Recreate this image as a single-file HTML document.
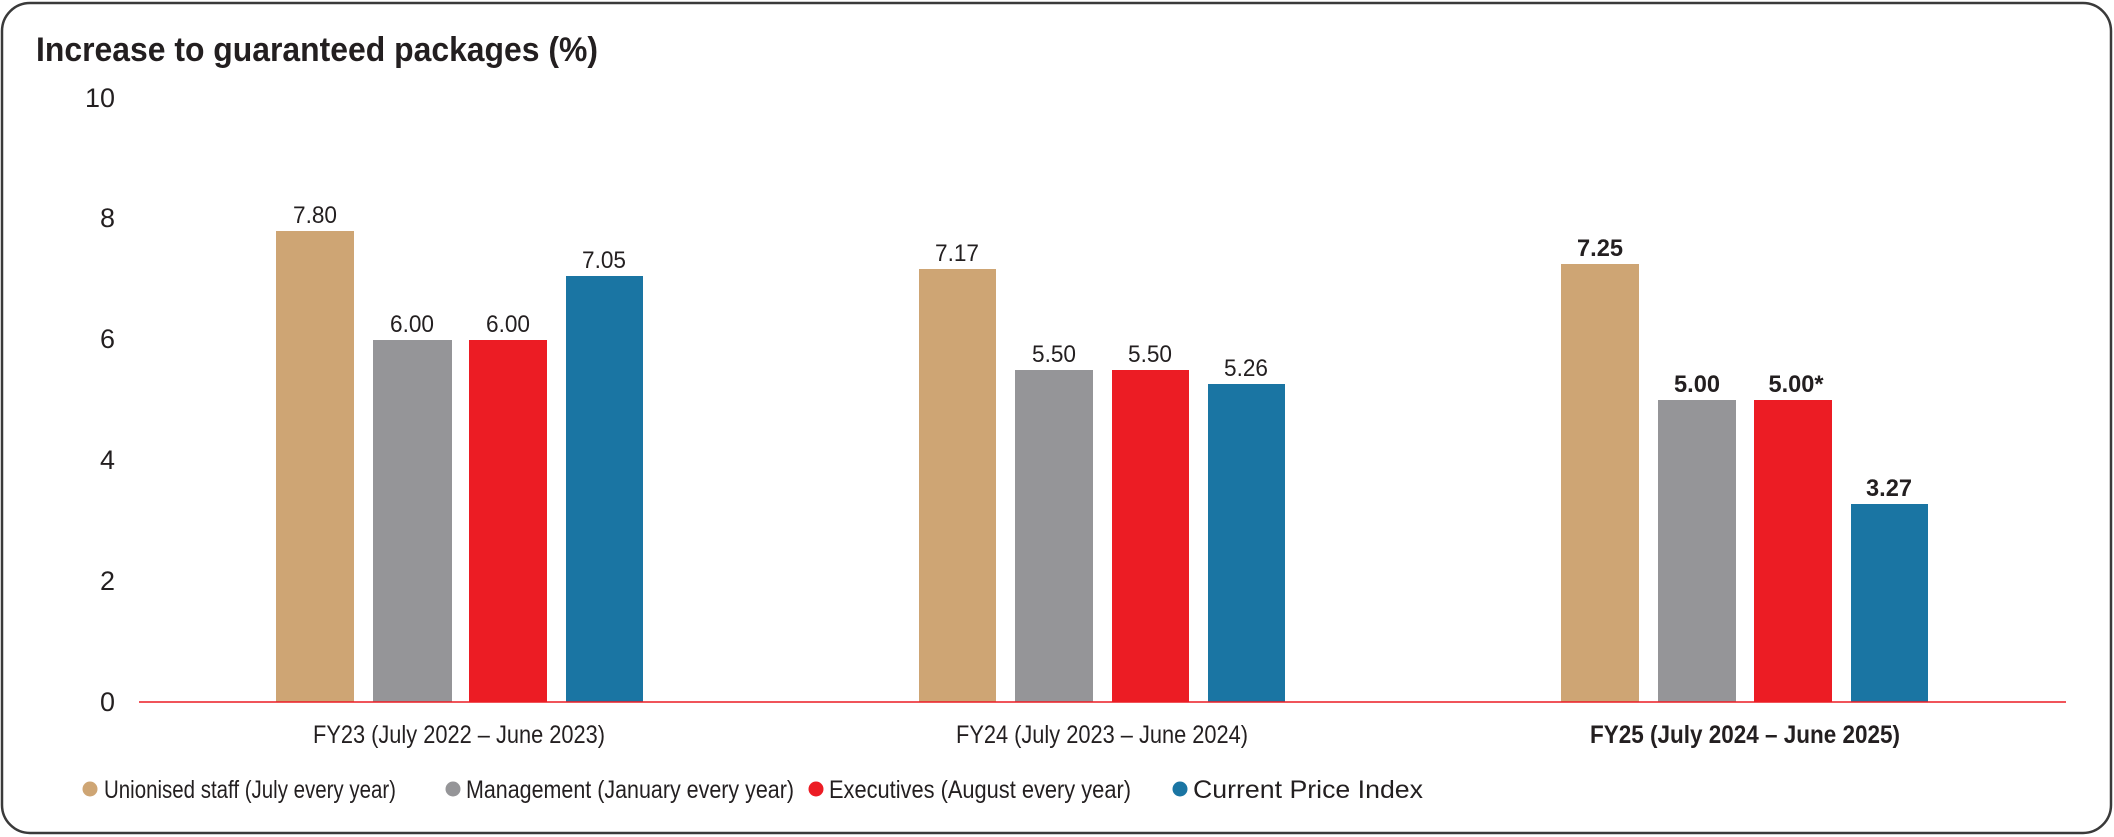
<!DOCTYPE html>
<html><head><meta charset="utf-8"><style>
html,body{margin:0;padding:0;background:#fff;}
svg{display:block;}
text{font-family:"Liberation Sans Narrow","Liberation Sans",sans-serif;fill:#231f20;}
</style></head><body>
<svg width="2114" height="837" viewBox="0 0 2114 837" xmlns="http://www.w3.org/2000/svg">
<rect x="2" y="3" width="2109" height="830" rx="28" ry="28" fill="#fff" stroke="#3a3a3a" stroke-width="2.5"/>
<text x="36" y="61" font-size="34" font-weight="bold" style="font-family:'Liberation Sans',sans-serif" textLength="562" lengthAdjust="spacingAndGlyphs">Increase to guaranteed packages (%)</text>
<g font-size="27" text-anchor="end">
<text x="115" y="107" textLength="30" lengthAdjust="spacingAndGlyphs">10</text>
<text x="115" y="227" textLength="15" lengthAdjust="spacingAndGlyphs">8</text>
<text x="115" y="348" textLength="15" lengthAdjust="spacingAndGlyphs">6</text>
<text x="115" y="469" textLength="15" lengthAdjust="spacingAndGlyphs">4</text>
<text x="115" y="590" textLength="15" lengthAdjust="spacingAndGlyphs">2</text>
<text x="115" y="711" textLength="15" lengthAdjust="spacingAndGlyphs">0</text>
</g>
<rect x="276" y="231" width="78" height="471" fill="#cea574"/>
<rect x="373" y="340" width="79" height="362" fill="#959598"/>
<rect x="469" y="340" width="78" height="362" fill="#ec1c24"/>
<rect x="566" y="276" width="77" height="426" fill="#1a75a3"/>
<g font-size="24" text-anchor="middle">
<text x="315" y="223" textLength="44" lengthAdjust="spacingAndGlyphs">7.80</text>
<text x="412" y="332" textLength="44" lengthAdjust="spacingAndGlyphs">6.00</text>
<text x="508" y="332" textLength="44" lengthAdjust="spacingAndGlyphs">6.00</text>
<text x="604" y="268" textLength="44" lengthAdjust="spacingAndGlyphs">7.05</text>
</g>
<rect x="919" y="269" width="77" height="433" fill="#cea574"/>
<rect x="1015" y="370" width="78" height="332" fill="#959598"/>
<rect x="1112" y="370" width="77" height="332" fill="#ec1c24"/>
<rect x="1208" y="384" width="77" height="318" fill="#1a75a3"/>
<g font-size="24" text-anchor="middle">
<text x="957" y="261" textLength="44" lengthAdjust="spacingAndGlyphs">7.17</text>
<text x="1054" y="362" textLength="44" lengthAdjust="spacingAndGlyphs">5.50</text>
<text x="1150" y="362" textLength="44" lengthAdjust="spacingAndGlyphs">5.50</text>
<text x="1246" y="376" textLength="44" lengthAdjust="spacingAndGlyphs">5.26</text>
</g>
<rect x="1561" y="264" width="78" height="438" fill="#cea574"/>
<rect x="1658" y="400" width="78" height="302" fill="#959598"/>
<rect x="1754" y="400" width="78" height="302" fill="#ec1c24"/>
<rect x="1851" y="504" width="77" height="198" fill="#1a75a3"/>
<g font-size="24" text-anchor="middle" font-weight="bold">
<text x="1600" y="256" textLength="46" lengthAdjust="spacingAndGlyphs">7.25</text>
<text x="1697" y="392" textLength="46" lengthAdjust="spacingAndGlyphs">5.00</text>
<text x="1796" y="392" textLength="55" lengthAdjust="spacingAndGlyphs">5.00*</text>
<text x="1889" y="496" textLength="46" lengthAdjust="spacingAndGlyphs">3.27</text>
</g>
<line x1="139" y1="702" x2="2066" y2="702" stroke="#ec1c24" stroke-width="1.5"/>
<g font-size="25" text-anchor="middle">
<text x="459" y="743" textLength="292" lengthAdjust="spacingAndGlyphs">FY23 (July 2022 – June 2023)</text>
<text x="1102" y="743" textLength="292" lengthAdjust="spacingAndGlyphs">FY24 (July 2023 – June 2024)</text>
<text x="1745" y="743" font-weight="bold" textLength="310" lengthAdjust="spacingAndGlyphs">FY25 (July 2024 – June 2025)</text>
</g>
<g font-size="25">
<circle cx="90" cy="789" r="7.5" fill="#cea574"/>
<text x="104" y="798" textLength="292" lengthAdjust="spacingAndGlyphs">Unionised staff (July every year)</text>
<circle cx="453" cy="789" r="7.5" fill="#959598"/>
<text x="466" y="798" textLength="328" lengthAdjust="spacingAndGlyphs">Management (January every year)</text>
<circle cx="816" cy="789" r="7.5" fill="#ec1c24"/>
<text x="829" y="798" textLength="302" lengthAdjust="spacingAndGlyphs">Executives (August every year)</text>
<circle cx="1180" cy="789" r="7.5" fill="#1a75a3"/>
<text x="1193" y="798" textLength="230" lengthAdjust="spacingAndGlyphs">Current Price Index</text>
</g>
</svg>
</body></html>
